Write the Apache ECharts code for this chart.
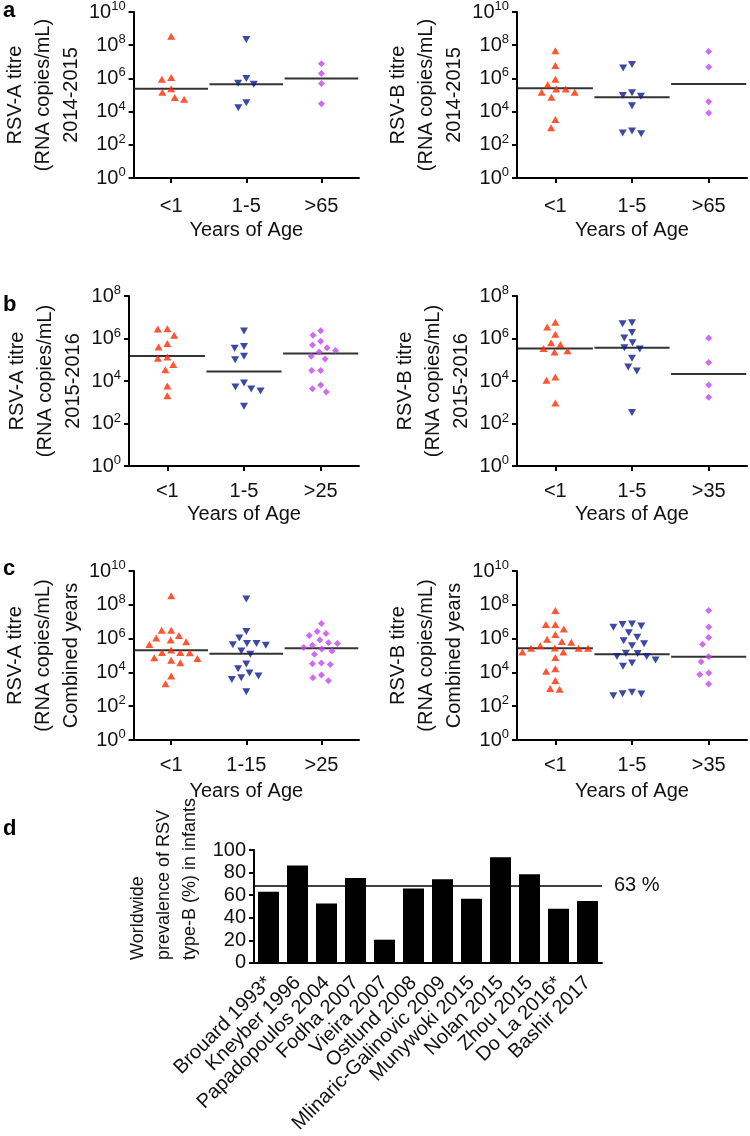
<!DOCTYPE html>
<html><head><meta charset="utf-8">
<script src="https://cdn.jsdelivr.net/npm/echarts@6/dist/echarts.min.js"></script>
<style>html,body{margin:0;padding:0;background:#fff}#c{width:750px;height:1136px}</style>
</head><body><div id="c"></div>
<script>
// ---------------- DATA (log10 RNA copies/mL) ----------------
const catsA = ['<1', '1-5', '>65'];
const catsBL = ['<1', '1-5', '>25'];
const catsBR = ['<1', '1-5', '>35'];
const catsCL = ['<1', '1-15', '>25'];
const catsCR = ['<1', '1-5', '>35'];

// a: 2014-2015
const aA_lt1 = [8.54, 6.06, 5.95, 5.38, 5.17, 4.85, 4.74];
const aA_mid = [8.34, 6.00, 5.71, 5.65, 4.54, 4.23];
const aA_old = [6.88, 6.30, 5.69, 4.48];
const aA_med = [5.38, 5.65, 6.00];

const aB_lt1 = [7.66, 6.78, 5.95, 5.61, 5.36, 5.36, 5.17, 5.17, 4.87, 3.53, 3.02];
const aB_mid = [6.84, 6.63, 5.13, 4.97, 4.93, 4.35, 2.83, 2.71, 2.67];
const aB_old = [7.62, 6.69, 4.60, 3.92];
const aB_med = [5.40, 4.87, 5.67];

// b: 2015-2016
const bA_lt1 = [6.46, 6.45, 6.15, 5.77, 5.60, 5.13, 5.07, 4.78, 4.53, 3.76, 3.31];
const bA_mid = [6.35, 5.62, 5.54, 5.16, 5.00, 3.91, 3.72, 3.62, 3.53, 2.81];
const bA_old = [6.37, 6.15, 5.87, 5.69, 5.57, 5.43, 5.36, 5.16, 5.04, 4.50, 4.49, 3.81, 3.64, 3.48];
const bA_med = [5.18, 4.45, 5.29];

const bB_lt1 = [6.77, 6.54, 6.20, 5.80, 5.72, 5.53, 5.42, 5.37, 4.19, 4.03, 2.96];
const bB_mid = [6.74, 6.69, 6.28, 6.02, 5.80, 5.57, 5.51, 5.07, 4.66, 4.47, 2.52];
const bB_old = [6.02, 4.87, 3.81, 3.24];
const bB_med = [5.53, 5.56, 4.33];

// c: combined years
const cA_lt1 = [8.54, 6.50, 6.50, 6.18, 6.04, 5.91, 5.81, 5.65, 5.33, 5.18, 5.18, 5.16, 4.86, 4.82, 4.72, 4.57, 3.78, 3.33];
const cA_mid = [8.35, 6.42, 6.04, 5.71, 5.71, 5.63, 5.61, 5.26, 5.08, 4.49, 4.21, 3.96, 3.78, 3.68, 3.58, 2.85];
const cA_old = [6.89, 6.42, 6.30, 6.18, 5.91, 5.75, 5.71, 5.61, 5.47, 5.39, 5.26, 5.08, 4.55, 4.51, 4.47, 3.84, 3.68, 3.50];
const cA_med = [5.31, 5.10, 5.43];

const cB_lt1 = [7.66, 6.83, 6.83, 6.57, 6.24, 5.96, 5.83, 5.79, 5.57, 5.45, 5.43, 5.43, 5.43, 5.20, 5.20, 4.88, 4.21, 4.07, 3.52, 3.05, 3.01];
const cB_mid = [6.87, 6.83, 6.75, 6.67, 6.34, 6.08, 5.87, 5.69, 5.57, 5.14, 5.12, 4.94, 4.94, 4.74, 4.55, 4.37, 2.83, 2.74, 2.72, 2.62];
const cB_old = [7.66, 6.69, 6.06, 5.67, 4.92, 4.63, 3.96, 3.88, 3.31];
const cB_med = [5.43, 5.08, 4.92];

// d: worldwide prevalence of RSV type-B in infants (%)
const studies = ['Brouard 1993*', 'Kneyber 1996', 'Papadopoulos 2004', 'Fodha 2007', 'Vieira 2007', 'Ostlund 2008',
  'Mlinaric-Galinovic 2009', 'Munywoki 2015', 'Nolan 2015', 'Zhou 2015', 'Do La 2016*', 'Bashir 2017'];
const prevalence = [62.9, 86.3, 52.6, 75.1, 20.5, 65.8, 74.0, 56.7, 93.6, 78.4, 48.0, 54.7];
const refLineValue = 68.4;
const refLineLabel = '63 %';
const prevTicks = [0, 20, 40, 60, 80, 100];

// ---------------- STYLE / LAYOUT ----------------
const FONT = '"Liberation Sans", Arial, Helvetica, sans-serif';
const TXT = '#111';
const COLORS = ['#ff2a00', '#0b1a8c', '#c544f2'];
const SYMBOLS = ['triangle', 'triangle', 'diamond'];
const ROT = [0, 180, 0];

const panels = [
  { grid: { left: 129, top: 7, width: 230, height: 171 }, maxExp: 10, lblMargin: 18, nameGap: 42, cats: catsA, yName: 'RSV-A titre\n(RNA copies/mL)\n2014-2015', groups: [aA_lt1, aA_mid, aA_old], med: aA_med },
  { grid: { left: 517, top: 7, width: 230, height: 171 }, maxExp: 10, lblMargin: 18, nameGap: 42, cats: catsA, yName: 'RSV-B titre\n(RNA copies/mL)\n2014-2015', groups: [aB_lt1, aB_mid, aB_old], med: aB_med },
  { grid: { left: 129, top: 296, width: 230, height: 170 }, maxExp: 8, lblMargin: 15, nameGap: 38, cats: catsBL, yName: 'RSV-A titre\n(RNA copies/mL)\n2015-2016', groups: [bA_lt1, bA_mid, bA_old], med: bA_med },
  { grid: { left: 517, top: 296, width: 230, height: 170 }, maxExp: 8, lblMargin: 15, nameGap: 38, cats: catsBR, yName: 'RSV-B titre\n(RNA copies/mL)\n2015-2016', groups: [bB_lt1, bB_mid, bB_old], med: bB_med },
  { grid: { left: 129, top: 571, width: 230, height: 169 }, maxExp: 10, lblMargin: 15, nameGap: 41, cats: catsCL, yName: 'RSV-A titre\n(RNA copies/mL)\nCombined years', groups: [cA_lt1, cA_mid, cA_old], med: cA_med },
  { grid: { left: 517, top: 571, width: 230, height: 169 }, maxExp: 10, lblMargin: 15, nameGap: 41, cats: catsCR, yName: 'RSV-B titre\n(RNA copies/mL)\nCombined years', groups: [cB_lt1, cB_mid, cB_old], med: cB_med }
];

const grids = [], xAxes = [], yAxes = [], series = [];
const axisLine = { show: true, onZero: false, lineStyle: { color: '#000', width: 2 } };
const axisTick = { show: true, length: 5, inside: false, lineStyle: { color: '#000', width: 2 } };

panels.forEach((p, pi) => {
  grids.push(Object.assign({ containLabel: false }, p.grid));
  // visible category axis (index 2*pi)
  xAxes.push({
    type: 'category', gridIndex: pi, data: p.cats, boundaryGap: true,
    jitter: 70, jitterOverlap: false, jitterMargin: 2,
    axisLine: axisLine, axisTick: Object.assign({ alignWithLabel: true }, axisTick),
    axisLabel: { fontSize: 20, fontFamily: FONT, color: TXT, margin: p.lblMargin },
    splitLine: { show: false },
    name: 'Years of Age', nameLocation: 'middle', nameGap: p.nameGap,
    nameTextStyle: { fontSize: 20, fontFamily: FONT, color: TXT }
  });
  // hidden value axis for median lines (index 2*pi+1)
  xAxes.push({ type: 'value', gridIndex: pi, min: -0.5, max: 2.5, show: false, splitLine: { show: false } });
  yAxes.push({
    type: 'log', logBase: 10, gridIndex: pi, min: 1, max: Math.pow(10, p.maxExp), interval: 2,
    axisLine: axisLine, axisTick: axisTick, splitLine: { show: false }, minorTick: { show: false },
    axisLabel: {
      margin: 8, color: TXT,
      formatter: v => '{b|10}{s|' + Math.round(Math.log10(v)) + '}',
      rich: {
        b: { fontSize: 20, lineHeight: 24, fontFamily: FONT, color: TXT },
        s: { fontSize: 13, lineHeight: 13, fontFamily: FONT, color: TXT, verticalAlign: 'top' }
      }
    },
    name: p.yName, nameLocation: 'middle', nameRotate: 90, nameGap: 41,
    nameTextStyle: { fontSize: 20, lineHeight: 28, fontFamily: FONT, color: TXT, align: 'center' }
  });
  p.groups.forEach((vals, gi) => {
    series.push({
      type: 'scatter', xAxisIndex: 2 * pi, yAxisIndex: pi, z: 3,
      symbol: SYMBOLS[gi], symbolRotate: ROT[gi], symbolSize: gi === 2 ? 7 : [8, 7],
      itemStyle: { color: COLORS[gi] },
      data: vals.map(v => [gi, Math.pow(10, v)]),
      silent: true
    });
    const m = Math.pow(10, p.med[gi]);
    series.push({
      type: 'line', xAxisIndex: 2 * pi + 1, yAxisIndex: pi, z: 2, symbol: 'none', silent: true,
      lineStyle: { color: '#333', width: 2 },
      data: [[gi - 0.49, m], [gi + 0.49, m]]
    });
  });
});

// panel d
const dIdx = panels.length;
grids.push({ left: 254, top: 850, width: 348, height: 114, containLabel: false });
xAxes.push({
  type: 'category', gridIndex: dIdx, data: studies, boundaryGap: true,
  axisLine: axisLine, axisTick: { show: false },
  axisLabel: { interval: 0, rotate: 45, fontSize: 20, fontFamily: FONT, color: TXT, margin: 17 }
});
yAxes.push({
  type: 'value', gridIndex: dIdx, min: prevTicks[0], max: prevTicks[prevTicks.length - 1], interval: 20,
  axisLine: axisLine, axisTick: axisTick, splitLine: { show: false },
  axisLabel: { fontSize: 20, fontFamily: FONT, color: TXT, margin: 8 }
});
series.push({
  type: 'bar', xAxisIndex: xAxes.length - 1, yAxisIndex: yAxes.length - 1,
  data: prevalence, barWidth: 21, itemStyle: { color: '#000' }, silent: true,
  markLine: {
    silent: true, symbol: 'none',
    lineStyle: { color: '#000', width: 1.5, type: 'solid' },
    label: { show: true, position: 'end', formatter: refLineLabel, fontSize: 20, fontFamily: FONT, color: TXT, distance: 12 },
    data: [{ yAxis: refLineValue }]
  }
});

const letterStyle = { fontSize: 22, fontWeight: 'bold', fontFamily: FONT, color: '#000' };
const option = {
  animation: false,
  backgroundColor: '#fff',
  title: [
    { text: 'a', left: 3, top: 0, padding: 0, textStyle: letterStyle },
    { text: 'b', left: 3, top: 294, padding: 0, textStyle: letterStyle },
    { text: 'c', left: 3, top: 558, padding: 0, textStyle: letterStyle },
    { text: 'd', left: 3, top: 818, padding: 0, textStyle: letterStyle }
  ],
  grid: grids, xAxis: xAxes, yAxis: yAxes, series: series,
  graphic: [{
    type: 'text', x: 164, y: 960, rotation: Math.PI / 2, silent: true,
    style: {
      text: 'Worldwide\nprevalence of RSV\ntype-B (%) in infants',
      fontSize: 18, lineHeight: 26, fontFamily: FONT, fill: TXT, align: 'left', verticalAlign: 'middle'
    }
  }]
};
const chart = echarts.init(document.getElementById('c'), null, { renderer: 'canvas' });
chart.setOption(option);
</script>
</body></html>
